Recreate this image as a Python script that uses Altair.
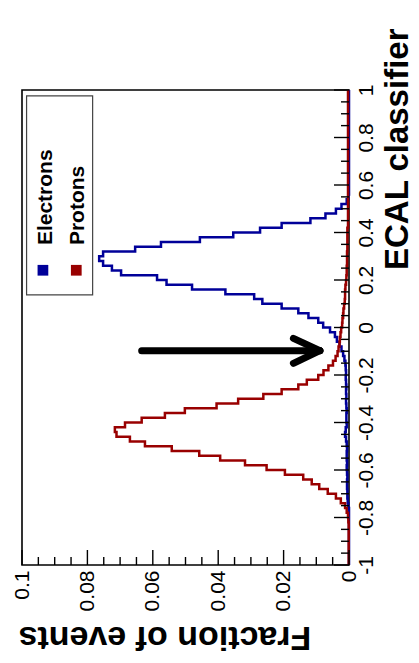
import altair as alt
import pandas as pd

# ---------------- data ----------------
N_BINS = 100
BIN_LO, BIN_HI = -1.0, 1.0

series_names = ["Electrons", "Protons"]
series_colors = ["#000099", "#990000"]

electrons = [
    0, 0, 0, 0, 0, 0, 0, 0, 0, 0,
    0, 0, 0.0002, 0.0004, 0.0005, 0.0005, 0.0006, 0.0006, 0.0005, 0.0006,
    0.0007, 0.0006, 0.0007, 0.0007, 0.0006, 0.0007, 0.0009, 0.0012, 0.0010, 0.0007,
    0.0008, 0.0008, 0.0007, 0.0008, 0.0009, 0.0008, 0.0009, 0.0008, 0.0009, 0.0010,
    0.0009, 0.0010, 0.0011, 0.0014, 0.0018, 0.0023, 0.0029, 0.0037, 0.0043, 0.0058,
    0.0079, 0.0094, 0.0124, 0.0155, 0.0206, 0.0265, 0.0290, 0.0378, 0.0480, 0.0558,
    0.0587, 0.0697, 0.0725, 0.0752, 0.0764, 0.0752, 0.0654, 0.0575, 0.0456, 0.0354,
    0.0272, 0.0206, 0.0118, 0.0072, 0.0040, 0.0023, 0.0007, 0.0002, 0, 0,
    0, 0, 0, 0, 0, 0, 0, 0, 0, 0,
    0, 0, 0, 0, 0, 0, 0, 0, 0, 0,
]

protons = [
    0.0001, 0.0001, 0.0001, 0.0001, 0.0001, 0.0001, 0.0001, 0.0001, 0.0001, 0.0002,
    0.0003, 0.0007, 0.0012, 0.0025, 0.0040, 0.0065, 0.0091, 0.0114, 0.0140, 0.0196,
    0.0252, 0.0318, 0.0394, 0.0458, 0.0542, 0.0624, 0.0670, 0.0711, 0.0716, 0.0685,
    0.0634, 0.0563, 0.0502, 0.0405, 0.0339, 0.0262, 0.0206, 0.0155, 0.0129, 0.0094,
    0.0078, 0.0063, 0.0049, 0.0041, 0.0035, 0.0032, 0.0029, 0.0028, 0.0026, 0.0024,
    0.0021, 0.0020, 0.0018, 0.0017, 0.0015, 0.0013, 0.0012, 0.0012, 0.0011, 0.0009,
    0.0008, 0.0007, 0.0007, 0.0006, 0.0006, 0.0006, 0.0005, 0.0005, 0.0005, 0.0005,
    0.0005, 0.0003, 0.0003, 0.0003, 0.0003, 0.0003, 0.0003, 0.0003, 0.0003, 0.0003,
    0.0003, 0.0003, 0.0003, 0.0003, 0.0003, 0.0003, 0.0003, 0.0003, 0.0003, 0.0003,
    0.0003, 0.0003, 0.0003, 0.0003, 0.0003, 0.0003, 0.0003, 0.0003, 0.0003, 0.0003,
]

frac_labels = [0, 0.02, 0.04, 0.06, 0.08, 0.1]
frac_minor = [0.005, 0.01, 0.015, 0.025, 0.03, 0.035, 0.045, 0.05, 0.055,
              0.065, 0.07, 0.075, 0.085, 0.09, 0.095]
ecal_labels = [-1, -0.8, -0.6, -0.4, -0.2, 0, 0.2, 0.4, 0.6, 0.8, 1]
ecal_minor = [-0.95, -0.9, -0.85, -0.75, -0.7, -0.65, -0.55, -0.5, -0.45,
              -0.35, -0.3, -0.25, -0.15, -0.1, -0.05, 0.05, 0.1, 0.15,
              0.25, 0.3, 0.35, 0.45, 0.5, 0.55, 0.65, 0.7, 0.75, 0.85, 0.9, 0.95]

# legend (in data units)
legend_box = {"x": [0.0986], "x2": [0.0784], "y": [0.975], "y2": [0.137]}
legend_text_x = [0.0909, 0.0811]
legend_text_y = [0.347, 0.347]
legend_sq_x = [0.0936, 0.0834]
legend_sq_y = [0.241, 0.241]

# arrow annotation (in data units)
arrow_x = [0.0634, 0.0170, 0.0170]
arrow_x2 = [0.0089, 0.0089, 0.0089]
arrow_y = [-0.0977, -0.0455, -0.1507]
arrow_y2 = [-0.0977, -0.0977, -0.0977]

# ---------------- build ----------------
W, H = 327, 475
FONT = "Liberation Sans"

bw = (BIN_HI - BIN_LO) / N_BINS
edges = [round(BIN_LO + bw * k, 6) for k in range(N_BINS + 1)]

rows = []
for name, vals in zip(series_names, [electrons, protons]):
    for k, v in enumerate(vals):
        rows.append({"series": name, "frac": v, "c": edges[k], "o": 2 * k})
        rows.append({"series": name, "frac": v, "c": edges[k + 1], "o": 2 * k + 1})
hist_df = pd.DataFrame(rows)

xscale = alt.Scale(domain=[0, 0.1], reverse=True, nice=False, zero=False)
yscale = alt.Scale(domain=[-1, 1], nice=False, zero=False)
cscale = alt.Scale(domain=series_names, range=series_colors)

xaxis = alt.Axis(values=frac_labels, ticks=False, domain=False, grid=False,
                 labelAngle=270, labelAlign="right", labelBaseline="middle",
                 labelPadding=5, labelFontSize=21, labelFont=FONT,
                 labelColor="black", labelExpr="toString(datum.value)",
                 labelOverlap=False, labelFlush=False,
                 title="Fraction of events", titleFont=FONT, titleFontSize=34,
                 titleFontWeight="bold", titleColor="black", titleAngle=180,
                 titleAlign="right", titleBaseline="alphabetic",
                 titleX=-4, titleY=61)
yaxis = alt.Axis(orient="right", values=ecal_labels, ticks=False, domain=False,
                 grid=False, labelAngle=270, labelAlign="center",
                 labelBaseline="top", labelPadding=6, labelFontSize=21,
                 labelFont=FONT, labelColor="black",
                 labelExpr="toString(datum.value)",
                 labelOverlap=False, labelFlush=False,
                 title="ECAL classifier", titleFont=FONT, titleFontSize=33,
                 titleFontWeight="bold", titleColor="black", titleAngle=270,
                 titleAlign="right", titleBaseline="alphabetic",
                 titleX=58, titleY=-62)


def X(field):
    return alt.X(field, scale=xscale, axis=xaxis)


def Y(field):
    return alt.Y(field, scale=yscale, axis=yaxis)


hist = alt.Chart(hist_df).mark_line(strokeWidth=2.5, strokeJoin="miter").encode(
    x=X("frac:Q"), y=Y("c:Q"),
    color=alt.Color("series:N", scale=cscale, legend=None),
    order="o:Q",
)

# ticks (drawn inward)
ymaj = alt.Chart(pd.DataFrame({"t": ecal_labels})).mark_rule(color="black", strokeWidth=1.4).encode(
    y=Y("t:Q"), x=alt.value(W), x2=alt.value(W - 15))
ymin = alt.Chart(pd.DataFrame({"t": ecal_minor})).mark_rule(color="black", strokeWidth=1.4).encode(
    y=Y("t:Q"), x=alt.value(W), x2=alt.value(W - 8))
xmaj = alt.Chart(pd.DataFrame({"t": frac_labels})).mark_rule(color="black", strokeWidth=1.4).encode(
    x=X("t:Q"), y=alt.value(H), y2=alt.value(H - 15))
xmin = alt.Chart(pd.DataFrame({"t": frac_minor})).mark_rule(color="black", strokeWidth=1.4).encode(
    x=X("t:Q"), y=alt.value(H), y2=alt.value(H - 8))

# legend
lbox = alt.Chart(pd.DataFrame(legend_box)).mark_rect(fill="white", stroke="#444444", strokeWidth=1.2).encode(
    x=X("x:Q"), x2="x2:Q", y=Y("y:Q"), y2="y2:Q")
ltext = alt.Chart(pd.DataFrame({"label": series_names, "x": legend_text_x, "y": legend_text_y})).mark_text(
    angle=270, align="left", baseline="alphabetic", font=FONT, fontWeight="bold",
    fontSize=21, color="black").encode(
    x=X("x:Q"), y=Y("y:Q"), text="label:N")
lsq = alt.Chart(pd.DataFrame({"series": series_names, "x": legend_sq_x, "y": legend_sq_y})).mark_square(
    filled=True, size=115, opacity=1).encode(
    x=X("x:Q"), y=Y("y:Q"),
    color=alt.Color("series:N", scale=cscale, legend=None))

# arrow
arrow = alt.Chart(pd.DataFrame({"x": arrow_x, "x2": arrow_x2, "y": arrow_y, "y2": arrow_y2})).mark_rule(
    color="black", strokeWidth=7, strokeCap="round").encode(
    x=X("x:Q"), x2="x2:Q", y=Y("y:Q"), y2="y2:Q")

chart = alt.layer(hist, lbox, lsq, ltext, arrow, ymaj, ymin, xmaj, xmin).properties(
    width=W, height=H,
    autosize=alt.AutoSizeParams(type="none"),
    padding={"left": 14, "top": 82, "right": 62, "bottom": 90},
    background="white",
).configure_view(stroke="black", strokeWidth=1.6)

chart.save("out.html", embed_options={"renderer": "svg", "actions": False})
